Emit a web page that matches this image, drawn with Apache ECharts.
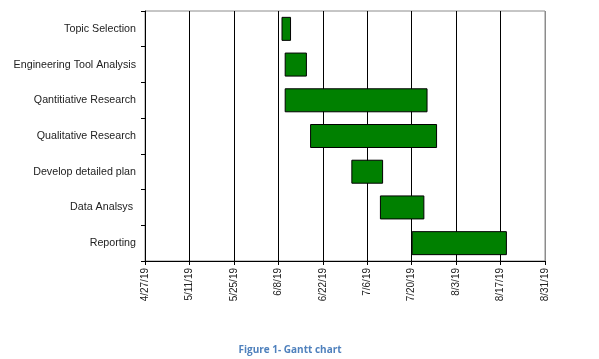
<!DOCTYPE html>
<html><head><meta charset="utf-8">
<script src="https://cdn.jsdelivr.net/npm/echarts@6/dist/echarts.min.js"></script>
<style>html,body{margin:0;padding:0;background:#fff}#c{width:599px;height:359px}</style>
</head><body><div id="c"></div>
<script>
var tasks = ['Topic Selection','Engineering Tool Analysis','Qantitiative Research','Qualitative Research','Develop detailed plan','Data Analsys ','Reporting'];
var startDates = ['2019-06-09','2019-06-10','2019-06-10','2019-06-18','2019-07-01','2019-07-10','2019-07-20'];
var endDates   = ['2019-06-12','2019-06-17','2019-07-25','2019-07-28','2019-07-11','2019-07-24','2019-08-19'];
var axisStart = '2019-04-27';
var axisEnd = '2019-08-31';
var tickDays = 14;
var caption = 'Figure 1- Gantt chart';

function toUTC(s){var p=s.split('-');return Date.UTC(+p[0],+p[1]-1,+p[2]);}
var base = toUTC(axisStart);
function dayOff(s){return Math.round((toUTC(s)-base)/86400000);}
var offs = startDates.map(dayOff);
var durs = endDates.map(function(e,i){return dayOff(e)-offs[i];});
var maxDay = dayOff(axisEnd);
function fmt(v){var d=new Date(base+v*86400000);return (d.getUTCMonth()+1)+'/'+d.getUTCDate()+'/'+String(d.getUTCFullYear()).slice(2);}
var nLines = maxDay/tickDays+1;
var lineColors = [];
for (var i=0;i<nLines;i++) lineColors.push(i===nLines-1?'#8c8c8c':'#000');

var chart = echarts.init(document.getElementById('c'));
chart.setOption({
  animation:false,
  title:{text:caption,left:285,textAlign:'center',top:340,textStyle:{fontFamily:'Open Sans',fontSize:10,fontWeight:'bold',color:'#4f81bd'}},
  grid:{left:145,right:54,top:11,bottom:98,show:true,borderColor:'#8c8c8c',borderWidth:1},
  xAxis:{type:'value',min:0,max:maxDay,interval:tickDays,
    axisLine:{show:true,lineStyle:{color:'#000',width:1}},
    axisTick:{show:true,length:4,lineStyle:{color:'#000'}},
    splitLine:{show:true,lineStyle:{color:lineColors,width:1}},
    axisLabel:{rotate:90,margin:7,formatter:fmt,fontFamily:'Liberation Sans',fontSize:10,color:'#222'}},
  yAxis:{type:'category',data:tasks,inverse:true,
    axisLine:{show:true,lineStyle:{color:'#000',width:1}},
    axisTick:{show:true,length:4,lineStyle:{color:'#000'}},
    splitLine:{show:false},
    axisLabel:{margin:9,fontFamily:'Liberation Sans',fontSize:10.7,color:'#222'}},
  series:[
    {type:'bar',stack:'g',data:offs,itemStyle:{color:'transparent'},silent:true,barWidth:24},
    {type:'bar',stack:'g',data:durs,barWidth:24,itemStyle:{color:'#008000',borderColor:'#000',borderWidth:1}}
  ]
});
</script></body></html>
